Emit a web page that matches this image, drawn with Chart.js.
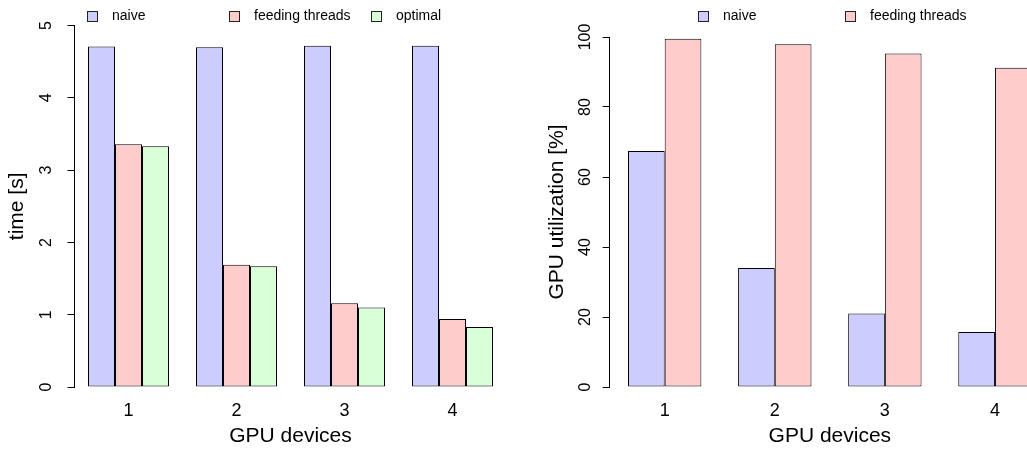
<!DOCTYPE html>
<html>
<head>
<meta charset="utf-8">
<script src="https://cdn.jsdelivr.net/npm/chart.js@4"></script>
<style>
  body { margin: 0; background: #fff; }
  #wrap { position: relative; width: 1027px; height: 450px; overflow: hidden; }
  #left { position: absolute; left: 0; top: 0; }
  #right { position: absolute; left: 520px; top: 0; }
</style>
</head>
<body>
<div id="wrap">
  <canvas id="left" width="520" height="450"></canvas>
  <canvas id="right" width="540" height="450"></canvas>
</div>
<script>
const devices = ["1", "2", "3", "4"];

// time [s]
const timeNaive = [4.71, 4.70, 4.72, 4.72];
const timeFeeding = [3.36, 1.69, 1.16, 0.94];
const timeOptimal = [3.33, 1.67, 1.10, 0.83];
const timeTicks = [0, 1, 2, 3, 4, 5];

// GPU utilization [%]
const utilNaive = [67.4, 34.0, 21.0, 15.7];
const utilFeeding = [99.5, 97.9, 95.3, 91.2];
const utilTicks = [0, 20, 40, 60, 80, 100];

const colNaive = "#ccccff";
const colFeeding = "#ffcccc";
const colOptimal = "#d9ffd9";
const font = "'Liberation Sans', Arial, sans-serif";

Chart.defaults.font.family = font;
Chart.defaults.color = "#000";

// R style legend drawn inside the plot region
function legendPlugin(x0, step) {
  return {
    id: "rlegend",
    afterDraw(chart) {
      const c = chart.ctx;
      c.save();
      c.font = "14px " + font;
      c.textBaseline = "middle";
      chart.data.datasets.forEach((ds, i) => {
        const x = x0 + i * step;
        c.fillStyle = ds.backgroundColor;
        c.fillRect(x, 11, 10, 10);
        c.strokeStyle = "#222";
        c.lineWidth = 1;
        c.strokeRect(x + 0.5, 11.5, 10, 10);
        c.fillStyle = "#000";
        c.fillText(ds.label, x + 25, 16);
      });
      c.restore();
    }
  };
}

function bars(label, data, color) {
  return {
    label, data,
    backgroundColor: color,
    borderColor: "#000",
    borderWidth: 1,
    borderSkipped: false,
    barPercentage: 1
  };
}

function makeChart(id, datasets, opts) {
  return new Chart(document.getElementById(id), {
    type: "bar",
    data: { labels: devices, datasets },
    options: {
      responsive: false,
      animation: false,
      events: [],
      layout: { padding: { top: opts.top, right: opts.right, left: 0, bottom: 0 } },
      plugins: { legend: { display: false }, tooltip: { enabled: false } },
      datasets: { bar: { categoryPercentage: opts.catPct } },
      scales: {
        x: {
          grid: { display: false, drawTicks: false },
          border: { display: false },
          ticks: { font: { size: 18 }, padding: 13 },
          title: { display: true, text: "GPU devices", font: { size: 21, lineHeight: 1.2 }, padding: { bottom: 1 } },
          afterFit(s) { s.height = 63; }
        },
        y: {
          min: opts.ticks[0],
          max: opts.ticks[opts.ticks.length - 1],
          afterBuildTicks(s) { s.ticks = opts.ticks.map(v => ({ value: v })); },
          grid: { drawOnChartArea: false, tickLength: 7, color: "#000" },
          border: { color: "#000" },
          ticks: { font: { size: 16 }, minRotation: 90, maxRotation: 90, crossAlign: "center", padding: opts.tickPad },
          title: { display: true, text: opts.title, font: { size: 21, lineHeight: 1.2 }, padding: { top: opts.titlePad } },
          afterFit(s) { s.width = opts.yWidth; }
        }
      }
    },
    plugins: [legendPlugin(opts.legX, opts.legStep)]
  });
}

makeChart("left", [
  bars("naive", timeNaive, colNaive),
  bars("feeding threads", timeFeeding, colFeeding),
  bars("optimal", timeOptimal, colOptimal)
], { top: 12, right: 13.5, yWidth: 74.5, catPct: 0.75, ticks: timeTicks,
     title: "time [s]", titlePad: 5, tickPad: 16, legX: 87, legStep: 142 });

makeChart("right", [
  bars("naive", utilNaive, colNaive),
  bars("feeding threads", utilFeeding, colFeeding)
], { top: 37, right: 10, yWidth: 89.65, catPct: 2 / 3, ticks: utilTicks,
     title: "GPU utilization [%]", titlePad: 25, tickPad: 4, legX: 178, legStep: 147 });
</script>
</body>
</html>
